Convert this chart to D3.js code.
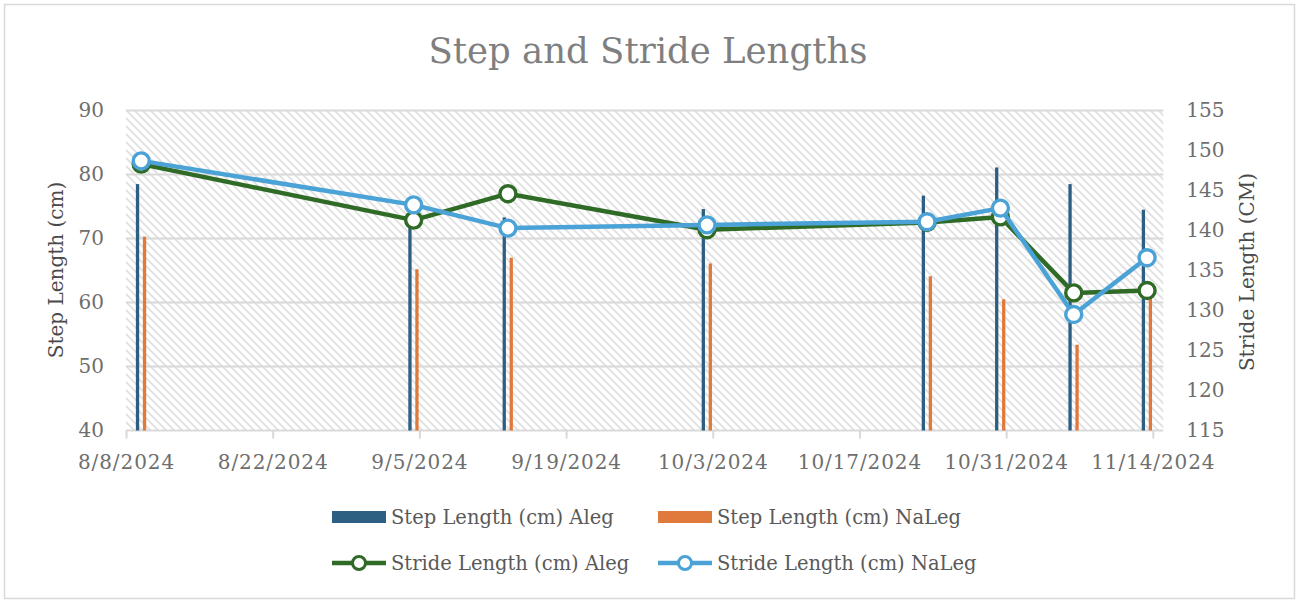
<!DOCTYPE html>
<html>
<head>
<meta charset="utf-8">
<script src="https://cdn.jsdelivr.net/npm/d3@7"></script>
<style>
  html, body { margin: 0; padding: 0; background: #fff; }
  svg { display: block; font-family: "DejaVu Serif", serif; }
</style>
</head>
<body>
<svg id="chart" width="1300" height="604"></svg>
<script>
// ---- data ----
const dates = ["8/9/2024", "9/4/2024", "9/13/2024", "10/2/2024", "10/23/2024", "10/30/2024", "11/6/2024", "11/13/2024"];
const stepAleg   = [78.5, 73.0, 73.3, 74.6, 76.7, 81.1, 78.5, 74.5];
const stepNaLeg  = [70.3, 65.2, 67.0, 66.1, 64.1, 60.5, 53.4, 62.0];
const strideAleg = [148.3, 141.3, 144.6, 140.1, 141.0, 141.7, 132.2, 132.5];
const strideNaLeg = [148.7, 143.2, 140.3, 140.7, 141.1, 142.8, 129.5, 136.6];
const xTickLabels = ["8/8/2024", "8/22/2024", "9/5/2024", "9/19/2024", "10/3/2024", "10/17/2024", "10/31/2024", "11/14/2024"];
const xDomainLabels = ["8/8/2024", "11/15/2024"];
const leftTicks = [40, 50, 60, 70, 80, 90];
const rightTicks = [115, 120, 125, 130, 135, 140, 145, 150, 155];
const seriesNames = ["Step Length (cm) Aleg", "Step Length (cm) NaLeg", "Stride Length (cm) Aleg", "Stride Length (cm) NaLeg"];
const chartTitle = "Step and Stride Lengths";
const leftTitle = "Step Length (cm)";
const rightTitle = "Stride Length (CM)";

// ---- styles ----
const C = {
  blueBar: "#2d5f82", orangeBar: "#e07a3c",
  green: "#2f6b26", lightBlue: "#4aa2d6",
  grid: "#d9d9d9", text: "#6e6e6e", title: "#7f7f7f", axisTitle: "#4a4a4a", legend: "#595959"
};

const parse = d3.timeParse("%m/%d/%Y");
const dts = dates.map(parse);
const svg = d3.select("#chart");

const plot = { left: 126, right: 1163.3, top: 110.5, bottom: 430.5 };

const x = d3.scaleTime().domain(xDomainLabels.map(parse)).range([plot.left, plot.right]);
const yL = d3.scaleLinear().domain([40, 90]).range([plot.bottom, plot.top]);
const yR = d3.scaleLinear().domain([115, 155]).range([plot.bottom, plot.top]);
const dayW = x(d3.timeDay.offset(dts[0], 1)) - x(dts[0]);

// border
svg.append("rect").attr("x", 4.5).attr("y", 4.5).attr("width", 1290).attr("height", 594)
  .attr("fill", "#fff").attr("stroke", C.grid).attr("stroke-width", 1.5);

// hatch pattern
const defs = svg.append("defs");
const pat = defs.append("pattern").attr("id", "hatch").attr("patternUnits", "userSpaceOnUse")
  .attr("width", 8).attr("height", 8);
pat.append("rect").attr("width", 8).attr("height", 8).attr("fill", "#fff");
pat.append("path").attr("d", "M-2,6 L2,10 M0,0 L8,8 M6,-2 L10,2")
  .attr("stroke", "#e0e0e0").attr("stroke-width", 1.8);

svg.append("rect").attr("x", plot.left).attr("y", plot.top)
  .attr("width", plot.right - plot.left).attr("height", plot.bottom - plot.top)
  .attr("fill", "url(#hatch)");

// gridlines
svg.append("g").selectAll("line").data(leftTicks.filter(t => t > 40)).join("line")
  .attr("x1", plot.left).attr("x2", plot.right)
  .attr("y1", d => yL(d)).attr("y2", d => yL(d))
  .attr("stroke", C.grid).attr("stroke-width", 2.2);

// title
svg.append("text").attr("x", 648).attr("y", 63).attr("text-anchor", "middle")
  .attr("font-size", 35.5).attr("fill", C.title).text(chartTitle);

// left axis
const gL = svg.append("g").attr("transform", `translate(${plot.left},0)`)
  .call(d3.axisLeft(yL).tickValues(leftTicks).tickSize(0).tickPadding(22));
gL.select(".domain").remove();
gL.selectAll("text").attr("font-size", 20).attr("fill", C.text).attr("font-family", "DejaVu Serif");

// right axis
const gR = svg.append("g").attr("transform", `translate(${plot.right},0)`)
  .call(d3.axisRight(yR).tickValues(rightTicks).tickSize(0).tickPadding(23));
gR.select(".domain").remove();
gR.selectAll("text").attr("font-size", 20).attr("fill", C.text).attr("font-family", "DejaVu Serif");

// bottom axis
const gB = svg.append("g").attr("transform", `translate(0,${plot.bottom})`)
  .call(d3.axisBottom(x).tickValues(xTickLabels.map(parse)).tickFormat(d3.timeFormat("%-m/%-d/%Y"))
    .tickSize(8).tickSizeOuter(0).tickPadding(16));
gB.select(".domain").attr("stroke", C.grid).attr("stroke-width", 2)
  .attr("d", `M${plot.left},0H${plot.right}`);
gB.selectAll(".tick line").attr("stroke", C.grid).attr("stroke-width", 2);
gB.selectAll("text").attr("font-size", 20).attr("letter-spacing", 0.9)
  .attr("fill", C.text).attr("font-family", "DejaVu Serif");

// axis titles
svg.append("text").attr("transform", `translate(63,270) rotate(-90)`).attr("text-anchor", "middle")
  .attr("font-size", 20).attr("fill", C.axisTitle).text(leftTitle);
svg.append("text").attr("transform", `translate(1254,272) rotate(-90)`).attr("text-anchor", "middle")
  .attr("font-size", 20).attr("fill", C.axisTitle).text(rightTitle);

// bars
const barW = 3.3;
svg.append("g").selectAll("rect").data(stepAleg).join("rect")
  .attr("x", (d, i) => x(dts[i]) - 0.6).attr("width", barW)
  .attr("y", d => yL(d)).attr("height", d => yL(40) - yL(d)).attr("fill", C.blueBar);
svg.append("g").selectAll("rect").data(stepNaLeg).join("rect")
  .attr("x", (d, i) => x(dts[i]) + 6.4).attr("width", barW)
  .attr("y", d => yL(d)).attr("height", d => yL(40) - yL(d)).attr("fill", C.orangeBar);

// lines
const cx = i => x(dts[i]) + dayW / 2 - 0.5;
function drawLine(vals, color) {
  const line = d3.line().x((d, i) => cx(i)).y(d => yR(d));
  svg.append("path").datum(vals).attr("d", line).attr("fill", "none")
    .attr("stroke", color).attr("stroke-width", 4.5).attr("stroke-linejoin", "round");
  svg.append("g").selectAll("circle").data(vals).join("circle")
    .attr("cx", (d, i) => cx(i)).attr("cy", d => yR(d)).attr("r", 8)
    .attr("fill", "#fff").attr("stroke", color).attr("stroke-width", 3.4);
}
drawLine(strideAleg, C.green);
drawLine(strideNaLeg, C.lightBlue);

// legend
const legendItems = [
  { name: seriesNames[0], type: "bar", color: C.blueBar, x: 332, y: 517 },
  { name: seriesNames[1], type: "bar", color: C.orangeBar, x: 658, y: 517 },
  { name: seriesNames[2], type: "line", color: C.green, x: 332, y: 563 },
  { name: seriesNames[3], type: "line", color: C.lightBlue, x: 658, y: 563 }
];
const lg = svg.append("g");
legendItems.forEach(it => {
  if (it.type === "bar") {
    lg.append("rect").attr("x", it.x).attr("y", it.y - 6).attr("width", 54).attr("height", 12).attr("fill", it.color);
  } else {
    lg.append("line").attr("x1", it.x).attr("x2", it.x + 54).attr("y1", it.y).attr("y2", it.y)
      .attr("stroke", it.color).attr("stroke-width", 4.5);
    lg.append("circle").attr("cx", it.x + 27).attr("cy", it.y).attr("r", 6.5)
      .attr("fill", "#fff").attr("stroke", it.color).attr("stroke-width", 3);
  }
  lg.append("text").attr("x", it.x + 59).attr("y", it.y + 7).attr("font-size", 19.5)
    .attr("fill", C.legend).text(it.name);
});
</script>
</body>
</html>
